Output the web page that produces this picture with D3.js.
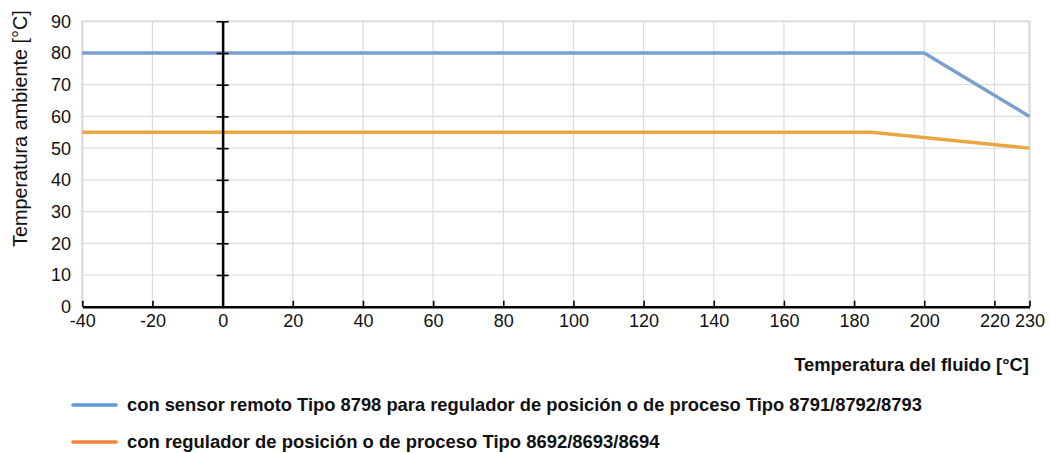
<!DOCTYPE html>
<html>
<head>
<meta charset="utf-8">
<script src="https://cdn.jsdelivr.net/npm/d3@7/dist/d3.min.js"></script>
<style>
  html, body { margin: 0; padding: 0; background: #fff; }
  svg { display: block; font-family: "Liberation Sans", Arial, Helvetica, sans-serif; }
</style>
</head>
<body>
<svg id="chart" width="1050" height="453"></svg>
<script>
// ---- data ----
const xTicks = [-40, -20, 0, 20, 40, 60, 80, 100, 120, 140, 160, 180, 200, 220, 230];
const yTicks = [0, 10, 20, 30, 40, 50, 60, 70, 80, 90];
const seriesNames = [
  "con sensor remoto Tipo 8798 para regulador de posición o de proceso Tipo 8791/8792/8793",
  "con regulador de posición o de proceso Tipo 8692/8693/8694"
];
const blueX = [-40, 200, 230];
const blueY = [80, 80, 60];
const orangeX = [-40, 185, 230];
const orangeY = [55, 55, 50];
const xLabel = "Temperatura del fluido [°C]";
const yLabel = "Temperatura ambiente [°C]";

// ---- layout ----
const svg = d3.select("#chart");
const m = { left: 82.3, right: 1029.5, top: 21.3, bottom: 306.7 };
const x = d3.scaleLinear().domain([-40, 230]).range([m.left, m.right]);
const y = d3.scaleLinear().domain([0, 90]).range([m.bottom, m.top]);

const lineColors = ["#7b9fcc", "#e9a743"];
const legendColors = ["#5e9bd6", "#f2843a"];
const tickFont = 18;

function fitWidth(sel, target) {
  const node = sel.node();
  const base = parseFloat(sel.attr("font-size"));
  const w = node.getComputedTextLength();
  if (w > 0) sel.attr("font-size", (base * target / w).toFixed(2));
  return sel;
}

// grid
const grid = svg.append("g");
grid.selectAll("line.v").data(xTicks).join("line")
  .attr("x1", d => x(d)).attr("x2", d => x(d))
  .attr("y1", m.top).attr("y2", m.bottom)
  .attr("stroke", "#dcdcdc").attr("stroke-width", d => (d === -40 || d === 230) ? 2.5 : 1.2);
grid.selectAll("line.h").data(yTicks).join("line")
  .attr("x1", m.left).attr("x2", m.right)
  .attr("y1", d => y(d)).attr("y2", d => y(d))
  .attr("stroke", "#dcdcdc").attr("stroke-width", d => d === 90 ? 2 : 1.2);

// series lines
const line = d3.line().x(d => x(d[0])).y(d => y(d[1]));
const series = [d3.zip(blueX, blueY), d3.zip(orangeX, orangeY)];
svg.selectAll("path.s").data(series).join("path")
  .attr("d", line).attr("fill", "none")
  .attr("stroke", (d, i) => lineColors[i]).attr("stroke-width", 3.4);

// x axis (bottom) with ticks pointing up
const xAxis = d3.axisBottom(x).tickValues(xTicks).tickSizeInner(-6).tickSizeOuter(0).tickPadding(10);
const gx = svg.append("g").attr("transform", `translate(0,${m.bottom})`).call(xAxis);
gx.select(".domain").attr("stroke", "#000").attr("stroke-width", 2.5);
gx.selectAll(".tick line").attr("stroke", "#000").attr("stroke-width", 1.6);
gx.selectAll(".tick text").attr("font-size", tickFont).attr("fill", "#111")
  .attr("y", 8).attr("dy", "0.71em")
  .text(d => d < 0 ? "-" + Math.abs(d) : d);

// vertical axis at x=0 with crossing ticks
const yAxis = d3.axisLeft(y).tickValues(yTicks).tickSize(0).tickFormat("");
const gy = svg.append("g").attr("transform", `translate(${x(0)},0)`).call(yAxis);
gy.select(".domain").attr("stroke", "#000").attr("stroke-width", 2.5);
gy.selectAll(".tick line").attr("x1", -6).attr("x2", 6).attr("stroke", "#000").attr("stroke-width", 1.6);
gy.selectAll(".tick").filter(d => d === 0).remove();

// y tick labels at left
svg.append("g").selectAll("text").data(yTicks).join("text")
  .attr("x", 71).attr("y", d => y(d)).attr("dy", "0.36em")
  .attr("text-anchor", "end").attr("font-size", tickFont).attr("fill", "#111")
  .text(d => d);

// axis labels
const yl = svg.append("text").attr("transform", "translate(27,247) rotate(-90)")
  .attr("text-anchor", "start").attr("font-size", 18).attr("fill", "#111")
  .text(yLabel);
fitWidth(yl, 237);
const xl = svg.append("text").attr("x", 1029).attr("y", 365).attr("dy", "0.35em").attr("text-anchor", "end")
  .attr("font-size", 18).attr("font-weight", 600).attr("fill", "#111")
  .text(xLabel);
fitWidth(xl, 235);

// legend
const legendWidths = [795, 533];
const legendY = [405, 442];
const lg = svg.append("g").selectAll("g").data(seriesNames).join("g")
  .attr("transform", (d, i) => `translate(0,${legendY[i]})`);
lg.append("line").attr("x1", 73).attr("x2", 116).attr("y1", 0).attr("y2", 0)
  .attr("stroke", (d, i) => legendColors[i]).attr("stroke-width", 3.6).attr("stroke-linecap", "round");
lg.append("text").attr("x", 127).attr("y", 0).attr("dy", "0.35em")
  .attr("font-size", 18).attr("font-weight", 600).attr("fill", "#111")
  .text(d => d)
  .each(function(d, i) { fitWidth(d3.select(this), legendWidths[i]); });
</script>
</body>
</html>
